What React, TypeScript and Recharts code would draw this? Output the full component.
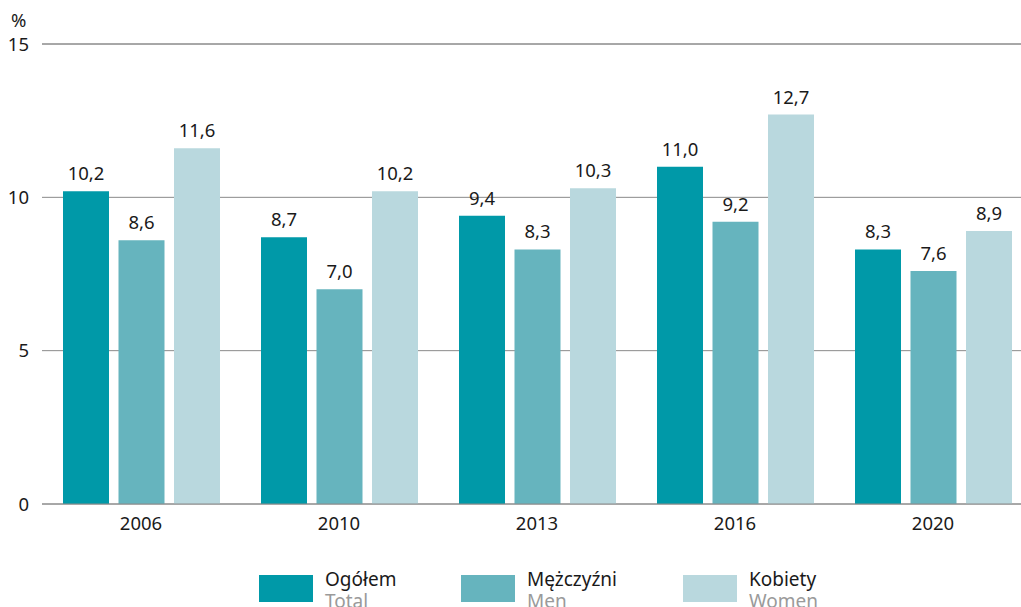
import { BarChart, Bar, XAxis, YAxis, CartesianGrid, LabelList, ReferenceLine } from "recharts";

const years = ["2006", "2010", "2013", "2016", "2020"];
const total = [10.2, 8.7, 9.4, 11.0, 8.3];
const men = [8.6, 7.0, 8.3, 9.2, 7.6];
const women = [11.6, 10.2, 10.3, 12.7, 8.9];
const yTicks = [0, 5, 10, 15];

const series = [
  { key: "total", label: "Ogółem", sub: "Total", color: "#0099a8" },
  { key: "men", label: "Mężczyźni", sub: "Men", color: "#66b4be" },
  { key: "women", label: "Kobiety", sub: "Women", color: "#b9d8de" },
];

const data = years.map((year, i) => ({
  year,
  total: total[i],
  men: men[i],
  women: women[i],
}));

const FONT = "'Noto Sans', 'Open Sans', sans-serif";
const TEXT = "#1a1a1a";
const LINE = "#8a8a8a";
const fmt = (v: any) => Number(v).toFixed(1).replace(".", ",");

const legendLeft = [259, 461, 683];

export default function App() {
  return (
    <div
      style={{
        position: "absolute",
        left: 0,
        top: 0,
        width: 1021,
        height: 607,
        overflow: "hidden",
        fontFamily: FONT,
        background: "#fff",
      }}
    >
      <div
        style={{
          position: "absolute",
          left: 11,
          top: 10.6,
          fontSize: 18.5,
          lineHeight: 1,
          color: TEXT,
        }}
      >
        %
      </div>
      <BarChart
        width={1040}
        height={607}
        data={data}
        margin={{ top: 44, right: 8, left: 0, bottom: 73 }}
        barSize={46}
        barGap={9.5}
      >
        <CartesianGrid vertical={false} stroke={LINE} />
        <XAxis
          dataKey="year"
          height={30}
          tickLine={false}
          axisLine={{ stroke: LINE }}
          tickSize={6}
          tickMargin={7}
          tick={{ fill: TEXT, fontSize: 18.5, fontFamily: FONT }}
        />
        <YAxis
          width={42}
          domain={[0, 15]}
          ticks={yTicks}
          axisLine={false}
          tickLine={false}
          tickSize={6}
          tickMargin={7}
          tick={{ fill: TEXT, fontSize: 18.5, fontFamily: FONT }}
        />
        <ReferenceLine y={15} stroke={LINE} />
        {series.map((s) => (
          <Bar key={s.key} dataKey={s.key} fill={s.color} isAnimationActive={false}>
            <LabelList
              dataKey={s.key}
              position="top"
              offset={11}
              formatter={fmt}
              style={{ fill: TEXT, fontSize: 18.5, fontFamily: FONT }}
            />
          </Bar>
        ))}
      </BarChart>
      {series.map((s, i) => (
        <div
          key={s.key}
          style={{
            position: "absolute",
            left: legendLeft[i],
            top: 567.6,
            display: "flex",
            alignItems: "flex-start",
          }}
        >
          <div
            style={{
              width: 54,
              height: 27,
              marginTop: 7.4,
              background: s.color,
              marginRight: 12,
            }}
          />
          <div style={{ fontSize: 19, lineHeight: "22px" }}>
            <div style={{ color: TEXT }}>{s.label}</div>
            <div style={{ color: "#9a9a9a" }}>{s.sub}</div>
          </div>
        </div>
      ))}
    </div>
  );
}
